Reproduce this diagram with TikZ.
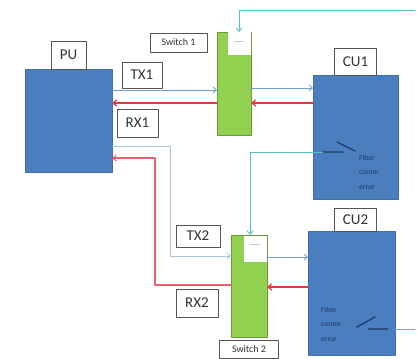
\documentclass[tikz,border=0pt]{standalone}
\usepackage{fontspec}
\setmainfont{Carlito}
\usepackage{xcolor}
\usepackage{tikz}
\usetikzlibrary{arrows.meta,positioning}
\definecolor{unitblue}{HTML}{4A7EBF}
\definecolor{unitedge}{HTML}{3F6EA8}
\definecolor{swgreen}{HTML}{92D050}
\definecolor{swedge}{HTML}{6A9A3A}
\definecolor{rxred}{HTML}{E23B45}
\definecolor{rxpale}{HTML}{E8606A}
\definecolor{txblue}{HTML}{6E9CCF}
\definecolor{txpale}{HTML}{A3C8E0}
\definecolor{ctrlteal}{HTML}{55BFC2}
\definecolor{navy}{HTML}{1F3864}
\definecolor{tagedge}{HTML}{555555}
\tikzset{
    every picture/.style={line cap=round,line join=round},
    unitbox/.style={draw=unitedge,fill=unitblue,line width=0.6pt,
      inner sep=0pt,outer sep=0pt},
    switchbox/.style={draw=swedge,fill=swgreen,line width=0.6pt,
      inner sep=0pt,outer sep=0pt},
    panel/.style={fill=white,inner sep=0pt,outer sep=0pt},
    tagbox/.style={draw=tagedge,fill=white,line width=0.8pt,inner sep=1pt,
      outer sep=0pt,text=black!80,font=\fontsize{15}{15}\selectfont},
    smalltag/.style={tagbox,font=\fontsize{10}{10}\selectfont},
    errtext/.style={align=left,text=navy,inner sep=0pt,anchor=north west,
      font=\fontsize{7.5}{14.5}\selectfont},
    txline/.style={->,draw=txblue,line width=0.8pt},
    txpath/.style={->,draw=txpale,line width=0.8pt},
    rxline/.style={->,draw=rxred,line width=1.4pt},
    rxpath/.style={->,draw=rxpale,line width=1.1pt},
    ctrl/.style={->,draw=ctrlteal,line width=0.9pt},
    contact/.style={draw=navy,line width=1.3pt}
}
\begin{document}
\begin{tikzpicture}[x=1pt,y=-1pt,>={Straight Barb[length=3.5pt,width=6pt]}]
  \useasboundingbox (0,0) rectangle (419,358);
  \node[unitbox,minimum width=87pt,minimum height=103pt] (pu) at (68.5,120.5) {};
  \node[tagbox,minimum width=35pt,minimum height=28pt,above=0pt of pu] (putag) {PU};
  \node[unitbox,minimum width=85pt,minimum height=124pt] (cu1) at (355.5,137) {};
  \node[tagbox,minimum width=42pt,minimum height=27pt,above=0pt of cu1] (cu1tag) {CU1};
  \node[unitbox,minimum width=87pt,minimum height=124pt] (cu2) at (351.5,293) {};
  \node[tagbox,minimum width=42pt,minimum height=23pt,above=0pt of cu2,xshift=4pt] (cu2tag) {CU2};
  \node[switchbox,minimum width=34pt,minimum height=103pt] (sw1) at (234,83.5) {};
  \node[panel,minimum width=23pt,minimum height=23pt,anchor=north east] (sw1pan)
    at ([shift={(-0.5,0.5)}]sw1.north east) {};
  \draw[gray!45,line width=0.6pt] ([shift={(-5,-3)}]sw1pan.center) -- ([shift={(5,-3)}]sw1pan.center);
  \node[switchbox,minimum width=36pt,minimum height=102pt] (sw2) at (249,286) {};
  \node[panel,minimum width=23pt,minimum height=26pt,anchor=north east] (sw2pan)
    at ([shift={(-0.5,0.5)}]sw2.north east) {};
  \draw[gray!45,line width=0.6pt] ([shift={(-5,-4)}]sw2pan.center) -- ([shift={(5,-4)}]sw2pan.center);
  \node[smalltag,minimum width=57pt,minimum height=19pt] (sw1tag) at (178.5,42.5) {Switch 1};
  \node[smalltag,minimum width=59pt,minimum height=18pt,below=3pt of sw2] (sw2tag) {Switch 2};
  \node[tagbox,minimum width=40pt,minimum height=26pt] (tx1) at (142,75) {TX1};
  \node[tagbox,minimum width=41pt,minimum height=28pt] (rx1) at (137.5,123) {RX1};
  \node[tagbox,minimum width=44pt,minimum height=22pt] (tx2) at (198,236) {TX2};
  \node[tagbox,minimum width=42pt,minimum height=28pt] (rx2) at (197,303) {RX2};
  \node[errtext] (err1) at (359,155) {Fiber\\comm\\error};
  \node[errtext] (err2) at (321,307) {Fiber\\comm\\error};
  \coordinate (k1) at (323,152);
  \draw[contact] (k1) -- (343,152) (337,142) -- (355,151);
  \coordinate (k2) at (388,329);
  \draw[contact] (357,327) -- (375,317) (368,329) -- (k2);
  \coordinate (ctl) at (415,10);
  \coordinate (ctr) at (415,329);
  \draw[txline] (pu.east |- 0,90) -- (sw1.west |- 0,90);
  \draw[txline] (sw1.east |- 0,88) -- (cu1.west |- 0,88);
  \draw[rxline] (cu1.west |- 0,103) -- (sw1.east |- 0,103);
  \draw[rxline] (sw1.west |- 0,103) -- (pu.east |- 0,103);
  \draw[txpath] (pu.east |- 0,146) -| (170,256) -- (sw2.west |- 0,256);
  \draw[txline] (sw2.east |- 0,257) -- (cu2.west |- 0,257);
  \draw[rxline] (cu2.west |- 0,287) -- (sw2.east |- 0,287);
  \draw[rxpath] (sw2.west |- 0,285) -| (155,158) -- (pu.east |- 0,158);
  \draw[ctrl] (ctl) -| (sw1.north -| 239,0);
  \draw[ctrl] (k1) -| (sw2.north -| 250,0);
  \draw[ctrl,-] (cu2.east |- k2) -- (ctr);
\end{tikzpicture}
\end{document}
